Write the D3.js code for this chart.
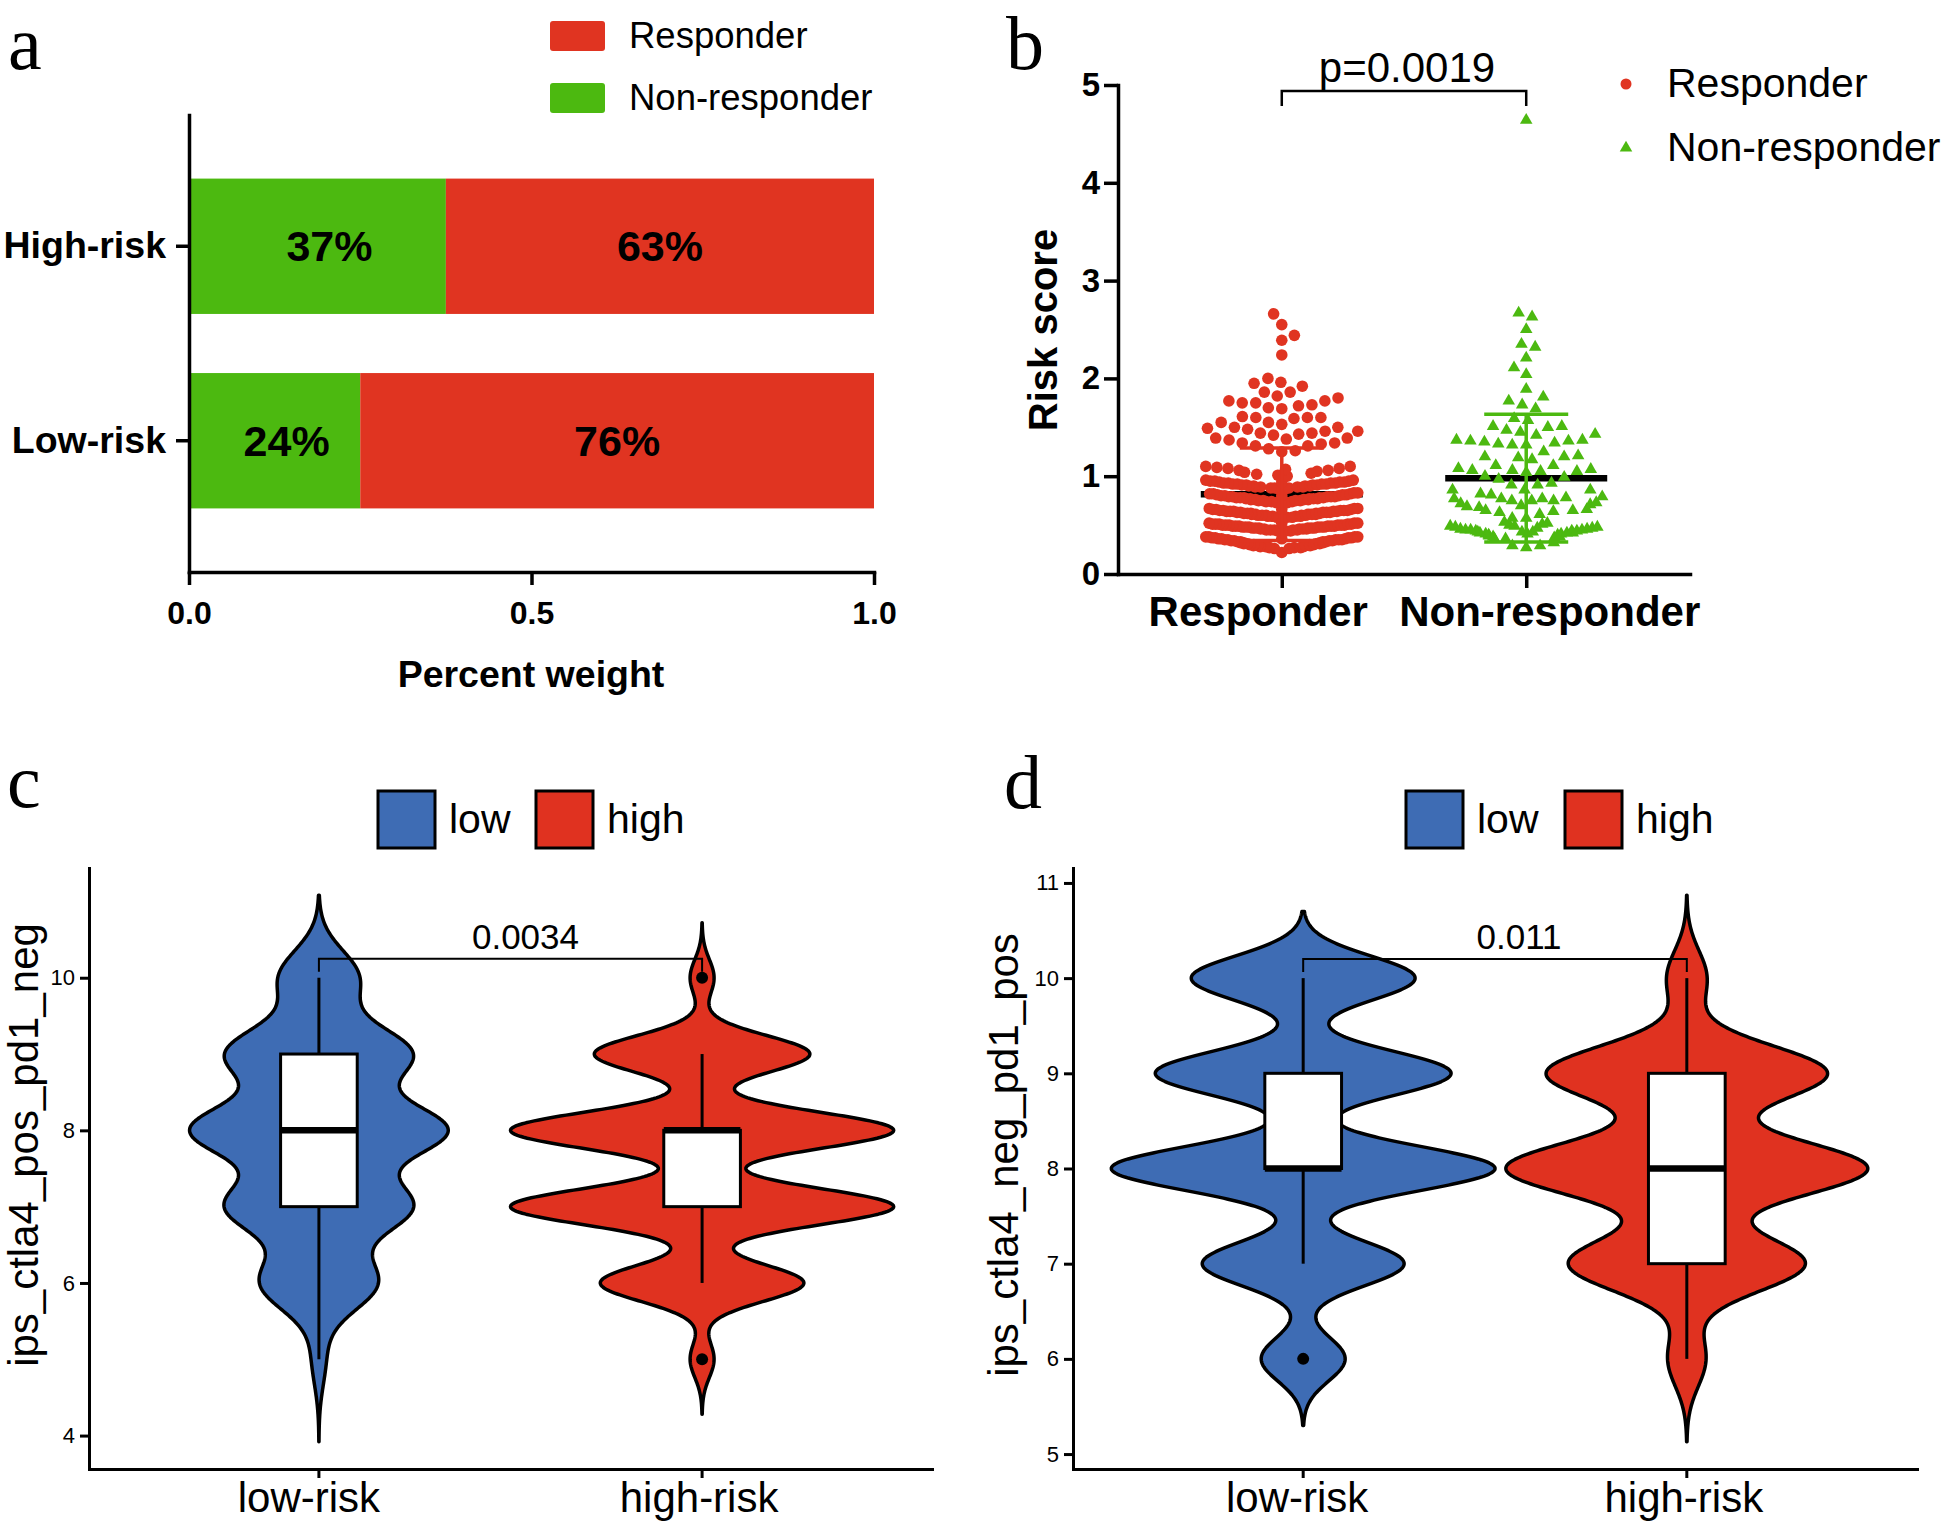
<!DOCTYPE html>
<html><head><meta charset="utf-8">
<script src="https://cdn.jsdelivr.net/npm/d3@7"></script>
<style>body{margin:0;background:#fff} svg{display:block}</style>
</head><body><svg id="fig" width="1952" height="1524"></svg>
<script>
// ---------------- DATA ----------------
// panel a
const riskGroups = ["High-risk", "Low-risk"];
const nonResponderShare = [0.375, 0.25];
const responderShare = [0.625, 0.75];
const nonResponderLabels = ["37%", "24%"];
const responderLabels = ["63%", "76%"];
const percentTicks = [0, 0.5, 1];
const legendA = ["Responder", "Non-responder"];

// panel b
const responseGroups = ["Responder", "Non-responder"];
const responderScores = [
  0.22, 0.26, 0.26, 0.27, 0.27, 0.27, 0.28, 0.28, 0.28, 0.29, 0.29, 0.29, 0.29, 0.30, 0.30, 0.30, 0.30,
  0.31, 0.31, 0.31, 0.31, 0.32, 0.32, 0.32, 0.32, 0.33, 0.33, 0.33, 0.33, 0.34, 0.34, 0.34, 0.34,
  0.35, 0.35, 0.35, 0.35, 0.35, 0.36, 0.36, 0.36, 0.36, 0.37, 0.37, 0.37, 0.37, 0.38, 0.38, 0.38, 0.38,
  0.44, 0.44, 0.44, 0.45, 0.45, 0.45, 0.45, 0.45, 0.46, 0.46, 0.46, 0.46, 0.46, 0.47, 0.47, 0.47, 0.47, 0.47, 0.47,
  0.48, 0.48, 0.48, 0.48, 0.48, 0.48, 0.49, 0.49, 0.49, 0.49, 0.49, 0.49, 0.50, 0.50, 0.50, 0.50, 0.50, 0.50,
  0.51, 0.51, 0.51, 0.51, 0.51, 0.52, 0.52, 0.52, 0.52,
  0.58, 0.58, 0.58, 0.59, 0.59, 0.59, 0.59, 0.60, 0.60, 0.60, 0.60, 0.60, 0.61, 0.61, 0.61, 0.61, 0.61,
  0.62, 0.62, 0.62, 0.62, 0.62, 0.63, 0.63, 0.63, 0.63, 0.63, 0.64, 0.64, 0.64, 0.64, 0.64,
  0.65, 0.65, 0.65, 0.65, 0.65, 0.66, 0.66, 0.66, 0.66, 0.67, 0.67, 0.67,
  0.73, 0.73, 0.74, 0.74, 0.74, 0.75, 0.75, 0.75, 0.75, 0.76, 0.76, 0.76, 0.76, 0.77, 0.77, 0.77, 0.77, 0.77,
  0.78, 0.78, 0.78, 0.78, 0.78, 0.79, 0.79, 0.79, 0.79, 0.79, 0.80, 0.80, 0.80, 0.80, 0.81, 0.81, 0.81,
  0.82, 0.82, 0.82, 0.83, 0.83,
  0.87, 0.87, 0.88, 0.88, 0.88, 0.89, 0.89, 0.89, 0.89, 0.90, 0.90, 0.90, 0.90, 0.91, 0.91, 0.91, 0.91,
  0.92, 0.92, 0.92, 0.92, 0.93, 0.93, 0.93, 0.93, 0.94, 0.94, 0.94, 0.94, 0.95, 0.95, 0.95, 0.96, 0.96,
  1.00, 1.01, 1.02, 1.03, 1.04, 1.05, 1.06, 1.06, 1.07, 1.08, 1.08, 1.09, 1.10, 1.10,
  1.25, 1.26, 1.28, 1.31, 1.31, 1.33, 1.34, 1.34, 1.37, 1.38, 1.39, 1.39, 1.42,
  1.43, 1.44, 1.44, 1.46, 1.46, 1.48, 1.49, 1.50, 1.50, 1.53, 1.55, 1.55,
  1.59, 1.60, 1.60, 1.60, 1.61, 1.69, 1.70, 1.72, 1.73, 1.75, 1.75, 1.77, 1.77, 1.80,
  1.82, 1.86, 1.86, 1.92, 1.95, 1.96, 2.00, 2.24, 2.39, 2.44, 2.55, 2.66
];
const nonResponderScores = [
  0.27, 0.29, 0.29, 0.32, 0.36, 0.36, 0.37, 0.38, 0.38, 0.39, 0.41,
  0.40, 0.40, 0.41, 0.41, 0.42, 0.42, 0.42, 0.43, 0.43, 0.43, 0.44, 0.44, 0.44, 0.45, 0.45, 0.45,
  0.46, 0.46, 0.47, 0.47, 0.48, 0.48, 0.49, 0.49, 0.50, 0.51, 0.52, 0.53,
  0.57, 0.57, 0.61, 0.63, 0.64, 0.65, 0.65, 0.66, 0.68, 0.69, 0.70, 0.71, 0.72, 0.73,
  0.75, 0.75, 0.75, 0.77, 0.77, 0.77, 0.78, 0.79, 0.81, 0.82, 0.86, 0.86,
  0.86, 0.91, 0.91, 0.93, 0.97, 0.99, 1.00,
  1.04, 1.05, 1.05, 1.06, 1.06, 1.07, 1.08, 1.11, 1.11,
  1.17, 1.19, 1.20, 1.20, 1.21, 1.25,
  1.32, 1.32, 1.33, 1.34, 1.35, 1.36, 1.36, 1.37, 1.37, 1.42,
  1.43, 1.45, 1.47, 1.50, 1.51, 1.51, 1.57, 1.59,
  1.69, 1.73, 1.77, 1.81, 1.89, 2.04, 2.11, 2.21, 2.32, 2.35, 2.50, 2.63, 2.67, 4.64
];
const scoreTicks = [0, 1, 2, 3, 4, 5];
const pValueB = "p=0.0019";

// panels c, d
const riskLevels = ["low-risk", "high-risk"];
const legendLevels = ["low", "high"];
const ipsScoresC = [5, 6, 7, 8, 9, 10];
const cLowCounts = [7, 60, 95, 131, 95, 41];
const cHighCounts = [2, 17, 32, 32, 18, 2];
const cBandwidths = [0.36, 0.24];
const cTicks = [4, 6, 8, 10];
const pValueC = "0.0034";

const ipsScoresD = [6, 7, 8, 9, 10];
const dLowCounts = [42, 101, 192, 148, 112];
const dHighCounts = [18, 112, 171, 133, 19];
const dBandwidths = [0.233, 0.29];
const dTicks = [5, 6, 7, 8, 9, 10, 11];
const pValueD = "0.011";

// ---------------- STYLE ----------------
const SANS = '"Liberation Sans", Arial, Helvetica, sans-serif';
const SERIF = '"Liberation Serif", "Times New Roman", Times, serif';
const RED_A = "#E03421", GREEN_A = "#4CB910";
const BLUE_V = "#3E6CB4", RED_V = "#E03220";

const svg = d3.select("#fig");

function styleAxis(g, stroke, font, weight) {
  g.selectAll("path.domain").attr("stroke", "#000").attr("stroke-width", stroke).attr("stroke-linecap", "square");
  g.selectAll(".tick line").attr("stroke", "#000").attr("stroke-width", stroke);
  g.selectAll(".tick text").attr("fill", "#000")
    .style("font-family", SANS).style("font-size", font + "px").style("font-weight", weight);
}
function txt(g, x, y, s, size, opts = {}) {
  return g.append("text").attr("x", x).attr("y", y).text(s)
    .style("font-family", opts.family || SANS).style("font-size", size + "px")
    .style("font-weight", opts.weight || "normal")
    .attr("text-anchor", opts.anchor || "start").attr("fill", "#000");
}

// panel letters
[["a", 8, 69], ["b", 1006, 69], ["c", 7, 807], ["d", 1004, 808]].forEach(([s, x, y]) =>
  txt(svg, x, y, s, 76, { family: SERIF }));

// ---------------- PANEL A ----------------
(function () {
  const g = svg.append("g");
  const x = d3.scaleLinear().domain([0, 1]).range([189, 874]);
  const y = d3.scaleBand().domain(riskGroups).range([115, 572]).paddingInner(0.304).paddingOuter(0.327);
  riskGroups.forEach((k, i) => {
    const y0 = y(k), bh = y.bandwidth(), cy = y0 + bh / 2;
    const xs = x(0), xm = x(nonResponderShare[i]), xe = x(nonResponderShare[i] + responderShare[i]);
    g.append("rect").attr("x", xs).attr("y", y0).attr("width", xm - xs).attr("height", bh).attr("fill", GREEN_A);
    g.append("rect").attr("x", xm).attr("y", y0).attr("width", xe - xm).attr("height", bh).attr("fill", RED_A);
    txt(g, (xs + xm) / 2 + 12, cy + 15, nonResponderLabels[i], 43, { weight: "bold", anchor: "middle" });
    txt(g, (xm + xe) / 2, cy + 15, responderLabels[i], 43, { weight: "bold", anchor: "middle" });
  });
  const xa = g.append("g").attr("transform", "translate(0,572)")
    .call(d3.axisBottom(x).tickValues(percentTicks).tickFormat(d3.format(".1f")).tickSize(13).tickSizeOuter(0).tickPadding(16));
  styleAxis(xa, 3.5, 32, "bold");
  const ya = g.append("g").attr("transform", "translate(189,0)")
    .call(d3.axisLeft(y).tickSize(13).tickSizeOuter(0).tickPadding(10));
  styleAxis(ya, 3.5, 37.5, "bold");
  txt(g, 531, 687, "Percent weight", 37.5, { weight: "bold", anchor: "middle" });
  // legend
  [[RED_A, 21, 48], [GREEN_A, 83, 110]].forEach(([c, ry, ty], i) => {
    g.append("rect").attr("x", 550).attr("y", ry).attr("width", 55).attr("height", 30).attr("rx", 3).attr("fill", c);
    txt(g, 629, ty, legendA[i], 36.5);
  });
})();

// ---------------- PANEL B ----------------
function swarm(values, y, D, cap, win) {
  const pts = values.slice().sort(d3.ascending).map(v => ({ v, y: y(v), x: 0 }));
  const placed = [];
  let toggle = 1;
  for (const p of pts) {
    const iv = [];
    for (const q of placed) {
      const dy = Math.abs(q.y - p.y);
      if (dy < D) { const h = Math.sqrt(D * D - dy * dy); iv.push([q.x - h, q.x + h]); }
    }
    const cands = [0];
    iv.forEach(([a, b]) => cands.push(a, b));
    cands.sort((a, b) => (Math.abs(a) - Math.abs(b)) || (toggle > 0 ? b - a : a - b));
    let best = 0;
    for (const c of cands) {
      if (!iv.some(([a, b]) => c > a + 1e-6 && c < b - 1e-6)) { best = c; break; }
    }
    if (best !== 0) toggle = -Math.sign(best);
    p.x = best; placed.push(p);
  }
  pts.forEach(p => {
    const W = d3.max(pts.filter(q => Math.abs(q.y - p.y) < win), q => Math.abs(q.x));
    p.cx = W > cap ? p.x * cap / W : p.x;
  });
  return pts;
}

(function () {
  const g = svg.append("g");
  const x = d3.scalePoint().domain(responseGroups).range([1118, 1690]).padding(0.67);
  const y = d3.scaleLinear().domain([0, 5]).range([574, 85]);
  const ya = g.append("g").attr("transform", "translate(1118,0)")
    .call(d3.axisLeft(y).tickValues(scoreTicks).tickFormat(d3.format("d")).tickSize(14).tickSizeOuter(0).tickPadding(4));
  styleAxis(ya, 3.5, 33, "bold");
  const xa = g.append("g").attr("transform", "translate(0,574)")
    .call(d3.axisBottom(x).tickSize(14).tickSizeOuter(0).tickPadding(8));
  styleAxis(xa, 3.5, 42, "bold");
  xa.selectAll(".tick text").attr("dx", (d, i) => i === 0 ? -24 : 23);
  g.append("text").attr("transform", "translate(1057,330) rotate(-90)").attr("text-anchor", "middle")
    .text("Risk score").style("font-family", SANS).style("font-size", "40px").style("font-weight", "bold");

  const sets = [
    { vals: responderScores, color: RED_A, shape: "circle", D: 13.5 },
    { vals: nonResponderScores, color: GREEN_A, shape: "triangle", D: 14 }
  ];
  const tri = d3.symbol().type(d3.symbolTriangle).size(68);
  sets.forEach((s, i) => {
    const cx = x(responseGroups[i]);
    const m = d3.mean(s.vals);
    g.append("line").attr("x1", cx - 81).attr("x2", cx + 81).attr("y1", y(m)).attr("y2", y(m))
      .attr("stroke", "#000").attr("stroke-width", 6.5);
  });
  sets.forEach((s, i) => {
    const cx = x(responseGroups[i]);
    const pts = swarm(s.vals, y, s.D, 76, 5);
    if (s.shape === "circle") {
      g.append("g").selectAll("circle").data(pts).join("circle")
        .attr("cx", d => cx + d.cx).attr("cy", d => d.y).attr("r", 5.8).attr("fill", s.color);
    } else {
      g.append("g").selectAll("path").data(pts).join("path")
        .attr("d", tri).attr("transform", d => `translate(${cx + d.cx},${d.y})`).attr("fill", s.color);
    }
  });
  sets.forEach((s, i) => {
    const cx = x(responseGroups[i]);
    const m = d3.mean(s.vals), sd = d3.deviation(s.vals);
    const eb = g.append("g").attr("stroke", s.color).attr("stroke-width", 3.5);
    eb.append("line").attr("x1", cx).attr("x2", cx).attr("y1", y(m - sd)).attr("y2", y(m + sd));
    [m - sd, m + sd].forEach(v => eb.append("line").attr("x1", cx - 42).attr("x2", cx + 42).attr("y1", y(v)).attr("y2", y(v)));
  });
  // significance bracket
  const x1 = x(responseGroups[0]), x2 = x(responseGroups[1]);
  g.append("path").attr("d", `M${x1},106V91H${x2}V106`).attr("fill", "none").attr("stroke", "#000").attr("stroke-width", 2.5);
  txt(g, (x1 + x2) / 2 + 3, 82, pValueB, 42, { anchor: "middle" });
  // legend
  g.append("circle").attr("cx", 1626).attr("cy", 84).attr("r", 5.5).attr("fill", RED_A);
  g.append("path").attr("d", tri).attr("transform", "translate(1626,148)").attr("fill", GREEN_A);
  txt(g, 1667, 97, responseGroups[0], 41);
  txt(g, 1667, 161, responseGroups[1], 41);
})();

// ---------------- PANELS C, D ----------------
function violinPanel(cfg) {
  const g = svg.append("g");
  const x = d3.scaleBand().domain(riskLevels).range([cfg.x0, cfg.x1]).paddingInner(0).paddingOuter(0.1);
  const groups = cfg.counts.map((counts, i) => {
    const h = cfg.bw[i], vals = cfg.scores;
    const present = vals.filter((v, j) => counts[j] > 0);
    const lo = d3.min(present) - 3 * h, hi = d3.max(present) + 3 * h;
    const N = d3.sum(counts);
    const dens = d3.range(512).map(k => {
      const yv = lo + (hi - lo) * k / 511;
      return { v: yv, d: d3.sum(vals, (v, j) => counts[j] * Math.exp(-0.5 * ((yv - v) / h) ** 2)) / (N * h * Math.sqrt(2 * Math.PI)) };
    });
    const all = vals.flatMap((v, j) => d3.range(counts[j]).map(() => v)).sort(d3.ascending);
    const q1 = d3.quantileSorted(all, 0.25), med = d3.quantileSorted(all, 0.5), q3 = d3.quantileSorted(all, 0.75);
    const iqr = q3 - q1;
    const lw = d3.min(all.filter(v => v >= q1 - 1.5 * iqr)), uw = d3.max(all.filter(v => v <= q3 + 1.5 * iqr));
    const out = Array.from(new Set(all.filter(v => v < lw || v > uw)));
    return { key: riskLevels[i], lo, hi, dens, q1, med, q3, lw, uw, out, color: cfg.colors[i] };
  });
  const lo = d3.min(groups, d => d.lo), hi = d3.max(groups, d => d.hi), pad = (hi - lo) * 0.05;
  const y = d3.scaleLinear().domain([lo - pad, hi + pad]).range([cfg.y0, cfg.y1]);
  const maxD = d3.max(groups, gr => d3.max(gr.dens, d => d.d));
  const w = d3.scaleLinear().domain([0, maxD]).range([0, x.bandwidth() / 2]);
  const bw = x.bandwidth() * 0.2;
  groups.forEach(gr => {
    const cx = x(gr.key) + x.bandwidth() / 2;
    const area = d3.area().y(d => y(d.v)).x0(d => cx - w(d.d)).x1(d => cx + w(d.d));
    g.append("path").attr("d", area(gr.dens)).attr("fill", gr.color).attr("stroke", "#000")
      .attr("stroke-width", 3.5).attr("stroke-linejoin", "round");
    g.append("line").attr("x1", cx).attr("x2", cx).attr("y1", y(gr.q3)).attr("y2", y(gr.uw)).attr("stroke", "#000").attr("stroke-width", 3);
    g.append("line").attr("x1", cx).attr("x2", cx).attr("y1", y(gr.q1)).attr("y2", y(gr.lw)).attr("stroke", "#000").attr("stroke-width", 3);
    g.append("rect").attr("x", cx - bw / 2).attr("y", y(gr.q3)).attr("width", bw).attr("height", y(gr.q1) - y(gr.q3))
      .attr("fill", "#fff").attr("stroke", "#000").attr("stroke-width", 3);
    g.append("line").attr("x1", cx - bw / 2).attr("x2", cx + bw / 2).attr("y1", y(gr.med)).attr("y2", y(gr.med))
      .attr("stroke", "#000").attr("stroke-width", 6.5);
    gr.out.forEach(v => g.append("circle").attr("cx", cx).attr("cy", y(v)).attr("r", 6).attr("fill", "#000"));
  });
  const ya = g.append("g").attr("transform", `translate(${cfg.x0},0)`)
    .call(d3.axisLeft(y).tickValues(cfg.ticks).tickFormat(d3.format("d")).tickSize(9).tickSizeOuter(0).tickPadding(5));
  styleAxis(ya, 3, 22, "normal");
  const xa = g.append("g").attr("transform", `translate(0,${cfg.y0})`)
    .call(d3.axisBottom(x).tickSize(9).tickSizeOuter(0).tickPadding(4));
  styleAxis(xa, 3, 42, "normal");
  xa.selectAll(".tick text").attr("dx", (d, i) => cfg.labelDx[i]);
  g.append("text").attr("transform", `translate(${cfg.titleX},${cfg.titleY}) rotate(-90)`).attr("text-anchor", "middle")
    .text(cfg.title).style("font-family", SANS).style("font-size", "42px");
  // bracket
  const c1 = x(riskLevels[0]) + x.bandwidth() / 2, c2 = x(riskLevels[1]) + x.bandwidth() / 2;
  const yb = y(cfg.bracket), yt = yb + 13;
  g.append("path").attr("d", `M${c1},${yt}V${yb}H${c2}V${yt}`).attr("fill", "none").attr("stroke", "#000").attr("stroke-width", 2);
  txt(g, (c1 + c2) / 2 + cfg.pdx, yb - 10, cfg.p, 35, { anchor: "middle" });
  // legend
  legendLevels.forEach((s, i) => {
    g.append("rect").attr("x", cfg.legX[i]).attr("y", 791).attr("width", 57).attr("height", 57)
      .attr("fill", cfg.colors[i]).attr("stroke", "#000").attr("stroke-width", 3);
    txt(g, cfg.legX[i] + 71, 833, s, 41);
  });
}

violinPanel({ x0: 89, x1: 932, y0: 1469, y1: 868, scores: ipsScoresC, counts: [cLowCounts, cHighCounts],
  bw: cBandwidths, ticks: cTicks, colors: [BLUE_V, RED_V], title: "ips_ctla4_pos_pd1_neg",
  titleX: 38, titleY: 1145, bracket: 10.25, p: pValueC, pdx: 15, legX: [378, 536], labelDx: [-10, -3] });
violinPanel({ x0: 1073, x1: 1917, y0: 1469, y1: 868, scores: ipsScoresD, counts: [dLowCounts, dHighCounts],
  bw: dBandwidths, ticks: dTicks, colors: [BLUE_V, RED_V], title: "ips_ctla4_neg_pd1_pos",
  titleX: 1018, titleY: 1155, bracket: 10.2, p: pValueD, pdx: 24, legX: [1406, 1565], labelDx: [-6, -3] });
</script></body></html>
